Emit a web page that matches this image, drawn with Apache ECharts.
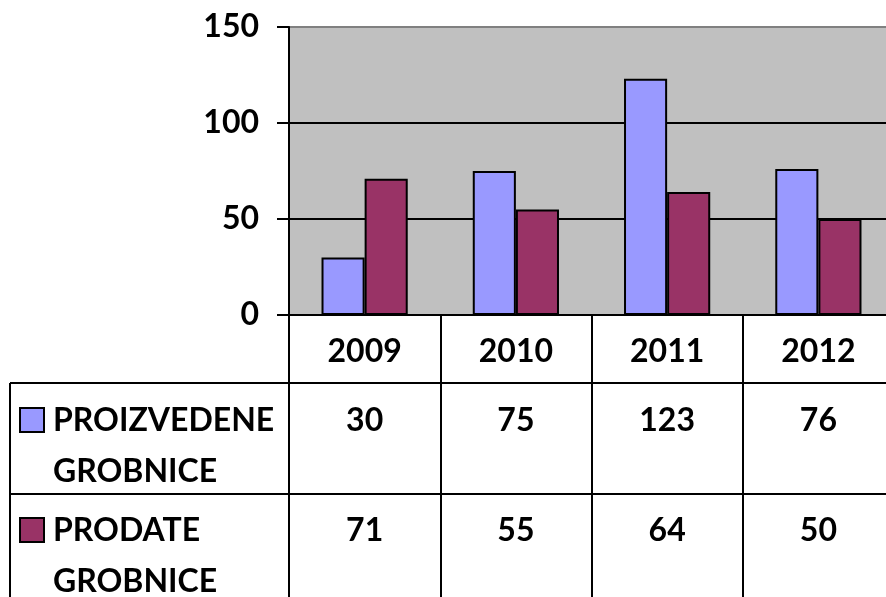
<!DOCTYPE html>
<html><head><meta charset="utf-8">
<script src="https://cdn.jsdelivr.net/npm/echarts@6/dist/echarts.min.js"></script>
<style>html,body{margin:0;padding:0;background:#fff}#c{width:886px;height:597px}</style>
</head><body><div id="c"></div>
<script>
const categories = ['2009', '2010', '2011', '2012'];
const seriesNames = ['PROIZVEDENE GROBNICE', 'PRODATE GROBNICE'];
const produced = [30, 75, 123, 76];
const sold = [71, 55, 64, 50];
const yTicks = [0, 50, 100, 150];

const colors = ['#9999FF', '#993366'];
const FONT = 'Lato';
const chart = echarts.init(document.getElementById('c'), null, {renderer: 'canvas'});
const textStyle = {fontFamily: FONT, fontWeight: 'bold', fontSize: 32, color: '#000'};

const option = {
  animation: false,
  backgroundColor: '#fff',
  grid: {left: 289, top: 27, height: 288, width: 605, show: true, outerBoundsMode: 'none', containLabel: false,
         backgroundColor: '#C0C0C0', borderColor: '#808080', borderWidth: 2},
  xAxis: {
    type: 'category', data: categories,
    axisLine: {lineStyle: {color: '#000', width: 2}},
    axisTick: {show: true, interval: 0, length: 282, lineStyle: {color: '#000', width: 2}},
    axisLabel: Object.assign({margin: 19, lineHeight: 36, interval: 0}, textStyle)
  },
  yAxis: {
    type: 'value', min: yTicks[0], max: yTicks[yTicks.length - 1], interval: 50,
    axisLine: {show: true, lineStyle: {color: '#000', width: 2}},
    axisTick: {show: true, length: 12, lineStyle: {color: '#000', width: 2}},
    splitLine: {show: true, showMaxLine: false, showMinLine: false, lineStyle: {color: '#000', width: 2}},
    axisLabel: Object.assign({margin: 30}, textStyle)
  },
  series: [
    {name: seriesNames[0], type: 'bar', data: produced, barGap: '0%', barCategoryGap: '43%',
     itemStyle: {color: colors[0], borderColor: '#000', borderWidth: 2}},
    {name: seriesNames[1], type: 'bar', data: sold, barGap: '0%', barCategoryGap: '43%',
     itemStyle: {color: colors[1], borderColor: '#000', borderWidth: 2}}
  ]
};
chart.setOption(option);

// Data table below the axis
const rows = [produced, sold];
const valueY = [421, 531];
const g = [];
const lineStyle = {stroke: '#000', lineWidth: 2};
g.push({type: 'line', shape: {x1: 10, y1: 383, x2: 886, y2: 383}, style: lineStyle, z: 10});
g.push({type: 'line', shape: {x1: 10, y1: 494, x2: 886, y2: 494}, style: lineStyle, z: 10});
g.push({type: 'line', shape: {x1: 10, y1: 383, x2: 10, y2: 597}, style: lineStyle, z: 10});
rows.forEach((vals, r) => {
  vals.forEach((v, i) => {
    const x = chart.convertToPixel({xAxisIndex: 0}, i);
    g.push({type: 'text', x: x, y: valueY[r], z: 10,
      style: {text: String(v), font: 'bold 32px ' + FONT, fill: '#000', align: 'center', verticalAlign: 'middle'}});
  });
  const keyTop = [408, 518][r];
  g.push({type: 'rect', shape: {x: 20, y: keyTop, width: 24, height: 24}, z: 10,
    style: {fill: colors[r], stroke: '#000', lineWidth: 2}});
  const parts = seriesNames[r].split(' ');
  g.push({type: 'text', x: 53, y: valueY[r], z: 10,
    style: {text: parts[0], font: 'bold 32px ' + FONT, fill: '#000', align: 'left', verticalAlign: 'middle'}});
  g.push({type: 'text', x: 53, y: valueY[r] + 51, z: 10,
    style: {text: parts[1], font: 'bold 32px ' + FONT, fill: '#000', align: 'left', verticalAlign: 'middle'}});
});
chart.setOption({graphic: g});
</script></body></html>
